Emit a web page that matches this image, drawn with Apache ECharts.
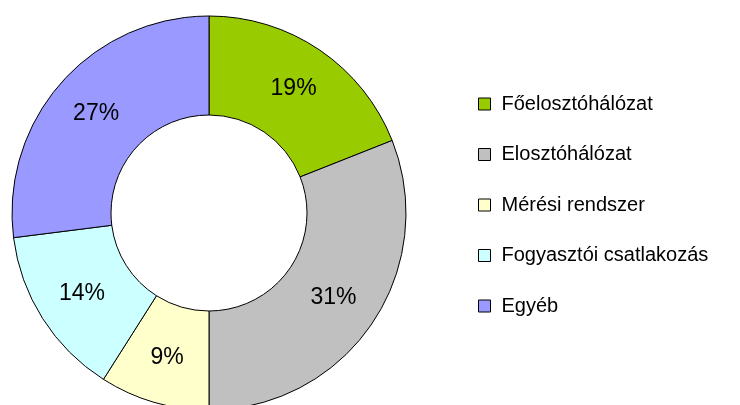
<!DOCTYPE html>
<html>
<head>
<meta charset="utf-8">
<script src="https://cdn.jsdelivr.net/npm/echarts@6/dist/echarts.min.js"></script>
<style>
  html, body { margin: 0; padding: 0; background: #fff; }
  #chart { width: 740px; height: 405px; }
</style>
</head>
<body>
<div id="chart"></div>
<script>
const categories = ["Főelosztóhálózat", "Elosztóhálózat", "Mérési rendszer", "Fogyasztói csatlakozás", "Egyéb"];
const values = [19, 31, 9, 14, 27];
const colors = ["#99cc00", "#c0c0c0", "#ffffcc", "#ccffff", "#9999ff"];

const chart = echarts.init(document.getElementById("chart"));
chart.setOption({
  animation: false,
  textStyle: { fontFamily: "Liberation Sans, Arial, sans-serif" },
  legend: {
    orient: "vertical",
    left: 478,
    top: 94,
    padding: 0,
    itemWidth: 12,
    itemHeight: 12,
    itemGap: 30.5,
    icon: "rect",
    data: categories,
    itemStyle: { borderColor: "#000", borderWidth: 1 },
    textStyle: {
      fontSize: 20,
      lineHeight: 20,
      color: "#000",
      padding: [0, 0, 0, 6]
    }
  },
  series: [
    {
      type: "pie",
      center: [209, 213],
      radius: [98, 197],
      startAngle: 90,
      clockwise: true,
      data: categories.map((name, i) => ({
        name: name,
        value: values[i],
        itemStyle: { color: colors[i] }
      })),
      itemStyle: { borderColor: "#000", borderWidth: 1 },
      label: {
        show: true,
        position: "inside",
        formatter: "{c}%",
        fontSize: 23,
        color: "#000"
      },
      labelLine: { show: false },
      emphasis: { disabled: true }
    }
  ]
});
</script>
</body>
</html>
